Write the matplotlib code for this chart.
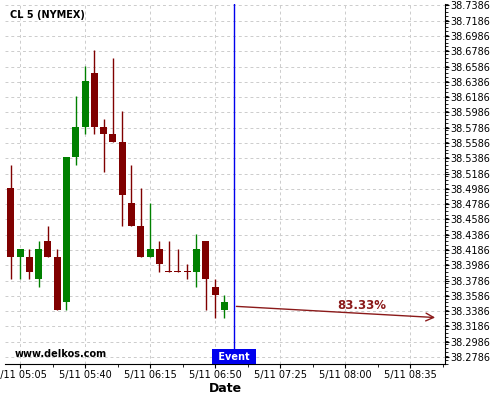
import datetime as dt
import matplotlib
matplotlib.use("Agg")
import matplotlib.pyplot as plt
import matplotlib.dates as mdates
from matplotlib.ticker import FuncFormatter, MultipleLocator, FixedLocator

# 5-minute candles, CL 5 (NYMEX)
times = ["05:00", "05:05", "05:10", "05:15", "05:20", "05:25", "05:30", "05:35",
         "05:40", "05:45", "05:50", "05:55", "06:00", "06:05", "06:10", "06:15",
         "06:20", "06:25", "06:30", "06:35", "06:40", "06:45", "06:50", "06:55"]
opens = [38.50, 38.41, 38.41, 38.38, 38.43, 38.41, 38.35, 38.54,
         38.58, 38.65, 38.58, 38.57, 38.56, 38.48, 38.45, 38.41,
         38.42, 38.39, 38.39, 38.39, 38.39, 38.43, 38.37, 38.34]
highs = [38.53, 38.42, 38.42, 38.43, 38.45, 38.42, 38.54, 38.62,
         38.66, 38.68, 38.59, 38.67, 38.60, 38.53, 38.50, 38.48,
         38.43, 38.43, 38.42, 38.40, 38.44, 38.43, 38.38, 38.36]
lows = [38.38, 38.38, 38.38, 38.37, 38.41, 38.34, 38.34, 38.53,
        38.57, 38.57, 38.52, 38.56, 38.45, 38.45, 38.41, 38.41,
        38.39, 38.39, 38.39, 38.38, 38.37, 38.34, 38.33, 38.33]
closes = [38.41, 38.42, 38.39, 38.42, 38.41, 38.34, 38.54, 38.58,
          38.64, 38.58, 38.57, 38.56, 38.49, 38.45, 38.41, 38.42,
          38.40, 38.39, 38.39, 38.39, 38.42, 38.38, 38.36, 38.35]

event_time = "07:00"
arrow_start = ("07:00", 38.345)
arrow_end = ("08:50", 38.330)
prob_label = "83.33%"
prob_pos = ("08:09", 38.346)

y_ticks_start, y_ticks_end, y_step = 38.2786, 38.7386, 0.02
first_xtick = "05:05"
xtick_step_min = 35

day = dt.date(2016, 5, 11)


def t(s):
    h, m = map(int, s.split(":"))
    return mdates.date2num(dt.datetime(day.year, day.month, day.day, h, m))


x = [t(s) for s in times]
minute = 1 / 1440.0

fig = plt.figure(figsize=(5, 4), dpi=100)
ax = fig.add_axes([0.01, 0.09, 0.88, 0.90])

red = "#800000"
green = "#008000"
w = 3.75 * minute
for xi, o, h, l, c in zip(x, opens, highs, lows, closes):
    col = green if c > o else red
    ax.vlines(xi, l, h, color=col, lw=1.0, zorder=3)
    bot = min(o, c)
    hgt = max(abs(c - o), 0.0006)
    ax.bar(xi, hgt, width=w, bottom=bot, color=col, edgecolor=col, lw=0, zorder=4)

# event line
ev = t(event_time)
ax.axvline(ev, color="#0000ee", lw=1.0, zorder=5)
ax.text(ev, 38.2694 + 0.0032, " Event ", color="white", fontsize=7, fontweight="bold",
        ha="center", va="bottom", zorder=6,
        bbox=dict(boxstyle="square,pad=0.3", facecolor="#0000ee", edgecolor="none"))

# projection arrow
ax.annotate("", xy=(t(arrow_end[0]), arrow_end[1]), xytext=(t(arrow_start[0]), arrow_start[1]),
            arrowprops=dict(arrowstyle="->", color="#8b1a1a", lw=1.0,
                            mutation_scale=14), zorder=5)
ax.text(t(prob_pos[0]), prob_pos[1], prob_label, color="#8b1a1a", fontsize=8.5,
        fontweight="bold", ha="center", va="center")

ax.text(0.011, 0.969, "CL 5 (NYMEX)", transform=ax.transAxes, fontsize=7,
        fontweight="bold", ha="left", va="center")
ax.text(0.023, 0.028, "www.delkos.com", transform=ax.transAxes, fontsize=7,
        fontweight="bold", ha="left", va="center")

# axes limits
ax.set_xlim(x[0] - 3.1 * minute, x[0] + 233.8 * minute)
ax.set_ylim(38.2694, 38.7405)

# y axis on right
yt = []
v = y_ticks_start
while v <= y_ticks_end + 1e-9:
    yt.append(round(v, 4))
    v += y_step
ax.yaxis.tick_right()
ax.set_yticks(yt)
ax.yaxis.set_major_formatter(FuncFormatter(lambda v, p: f"{v:.4f}"))
ax.yaxis.set_minor_locator(MultipleLocator(0.005))

# x ticks every 35 minutes
xt = []
xs = t(first_xtick)
while xs <= ax.get_xlim()[1]:
    xt.append(xs)
    xs += xtick_step_min * minute
ax.xaxis.set_major_locator(FixedLocator(xt))
ax.xaxis.set_minor_locator(FixedLocator([a + xtick_step_min / 2 * minute for a in [xt[0] - xtick_step_min * minute] + xt]))


def fmt(v, p):
    d = mdates.num2date(v)
    return f"{d.month}/{d.day} {d:%H:%M}"


ax.xaxis.set_major_formatter(FuncFormatter(fmt))
ax.tick_params(axis="both", which="major", labelsize=7, length=3, pad=1)
ax.tick_params(axis="both", which="minor", length=2)

ax.grid(True, which="major", color="#cccccc", ls=(0, (3, 3)), lw=0.7)
ax.set_axisbelow(True)
for s in ["left", "top"]:
    ax.spines[s].set_visible(False)
ax.set_xlabel("Date", fontsize=9, fontweight="bold", labelpad=2)

fig.savefig("out.png", dpi=100)
